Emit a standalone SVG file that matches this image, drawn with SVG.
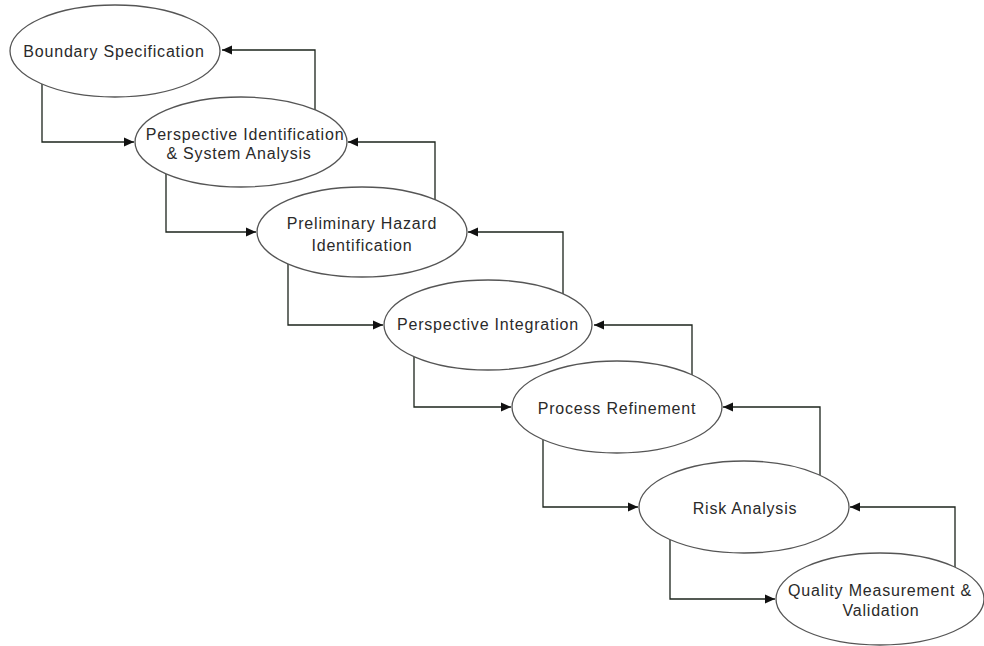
<svg xmlns="http://www.w3.org/2000/svg" width="984" height="646" viewBox="0 0 984 646">
  <defs>
    <marker id="arrow" markerUnits="userSpaceOnUse" markerWidth="11" markerHeight="10" refX="10" refY="5" orient="auto">
      <path d="M0,0.5 L10,5 L0,9.5 Z" fill="#111"/>
    </marker>
    <style>
      .node ellipse { fill: #ffffff; stroke: #555555; stroke-width: 1.3; }
      .node text { font-family: "Liberation Sans", Arial, sans-serif; font-size: 16px; letter-spacing: 0.8px; fill: #2a2a2a; text-anchor: middle; }
      .link { fill: none; stroke: #1c241c; stroke-width: 1.3; marker-end: url(#arrow); }
    </style>
  </defs>
  <rect width="984" height="646" fill="#ffffff"/>

  <!-- forward / feedback connectors between consecutive steps -->
  <g id="connectors">
    <path class="link" d="M42,84 V142 H134"/>
    <path class="link" d="M315,110 V50 H222"/>
    <path class="link" d="M166,174 V232 H256"/>
    <path class="link" d="M435,200 V142 H348"/>
    <path class="link" d="M288,264 V325 H383"/>
    <path class="link" d="M563,294 V232 H468"/>
    <path class="link" d="M414,357 V407 H511"/>
    <path class="link" d="M692,375 V325 H594"/>
    <path class="link" d="M543,440 V507 H638"/>
    <path class="link" d="M820,475 V407 H723"/>
    <path class="link" d="M670,540 V599 H775"/>
    <path class="link" d="M955,567 V507 H850"/>
  </g>

  <g id="boundary-specification" class="node">
    <ellipse cx="115" cy="51" rx="105" ry="46"/>
    <text x="114" y="57">Boundary Specification</text>
  </g>
  <g id="perspective-identification" class="node">
    <ellipse cx="241" cy="142" rx="106" ry="45"/>
    <text x="245" y="140">Perspective Identification</text>
    <text x="239" y="159">&amp; System Analysis</text>
  </g>
  <g id="preliminary-hazard-identification" class="node">
    <ellipse cx="362" cy="232" rx="105" ry="45"/>
    <text x="362" y="229">Preliminary Hazard</text>
    <text x="362" y="251">Identification</text>
  </g>
  <g id="perspective-integration" class="node">
    <ellipse cx="488" cy="325" rx="104" ry="45"/>
    <text x="488" y="330">Perspective Integration</text>
  </g>
  <g id="process-refinement" class="node">
    <ellipse cx="617" cy="407" rx="105" ry="46"/>
    <text x="617" y="414">Process Refinement</text>
  </g>
  <g id="risk-analysis" class="node">
    <ellipse cx="744" cy="507" rx="105" ry="46"/>
    <text x="745" y="514">Risk Analysis</text>
  </g>
  <g id="quality-measurement-validation" class="node">
    <ellipse cx="880" cy="599" rx="104" ry="46"/>
    <text x="880" y="596">Quality Measurement &amp;</text>
    <text x="881" y="616">Validation</text>
  </g>
</svg>
